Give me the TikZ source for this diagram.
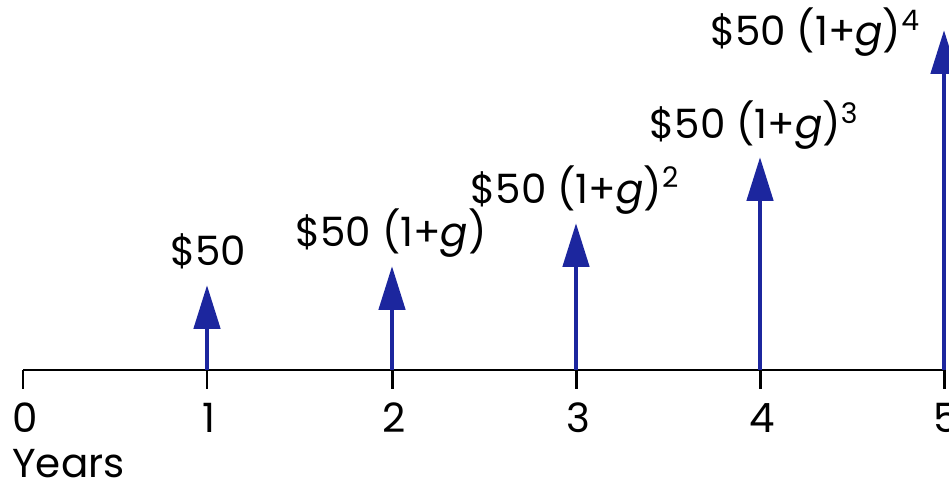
\documentclass[tikz,border=0pt]{standalone}
\usepackage{fontspec}
\setmainfont{Poppins}
\usetikzlibrary{arrows.meta,calc}
\definecolor{CashClr}{RGB}{28,38,158}

\begin{document}
\begin{tikzpicture}[x=0.02cm,y=-0.02cm,
  cash/.style={draw=CashClr,line width=2.8pt,-{Triangle[length=0.88cm,width=0.52cm]}},
  amount/.style={inner sep=0pt,anchor=base,font=\fontsize{23}{26}\selectfont},
  yearlbl/.style={inner sep=0pt,font=\fontsize{23}{26}\selectfont}]
\useasboundingbox (0,0) rectangle (949,486);

% time line
\coordinate (start) at (23,370);
\coordinate (end) at (944,370);
\draw[line width=1.7pt] (start) -- (end);

\foreach \i/\x in {0/23,1/207,2/392,3/576,4/760,5/944}{
  \coordinate (t\i) at (\x,370);
  \draw[line width=1.7pt] (t\i) -- ++(0,19);
  \node[yearlbl,anchor=base] (y\i) at (\x+2,432) {\i};
}
\node[yearlbl,anchor=base west] (years) at (12,477) {Years};

% cash flows
\foreach \i/\h in {1/285,2/266,3/223,4/157,5/30}{
  \coordinate (h\i) at ($(t\i)+(0,\h-370)$);
  \draw[cash] (t\i) -- (h\i);
}

\node[amount] (c1) at (208,265) {\$50};
\node[amount] (c2) at (391,246) {\$50 (1+\textit{g})};
\node[amount] (c3) at (575,203) {\$50 (1+\textit{g})\textsuperscript{2}};
\node[amount] (c4) at (754,139) {\$50 (1+\textit{g})\textsuperscript{3}};
\node[amount] (c5) at (815,46) {\$50 (1+\textit{g})\textsuperscript{4}};

\end{tikzpicture}
\end{document}
